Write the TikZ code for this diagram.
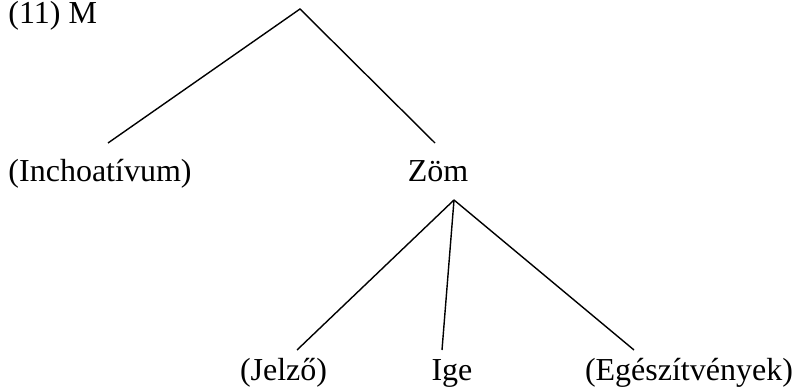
\documentclass[tikz,border=0pt]{standalone}
\usepackage{fontspec}
\setmainfont{Liberation Serif}
\begin{document}
\begin{tikzpicture}[x=1pt,y=-1pt,
  lbl/.style={inner sep=0pt,outer sep=0pt,font=\fontsize{32}{38}\selectfont},
  branch/.style={line width=1.4pt}]
\useasboundingbox (0,0) rectangle (794,387);
\node[lbl,anchor=base west] (title) at (8.5,24) {(11) M};
\node[lbl,anchor=base west] (inch) at (8.5,182) {(Inchoatívum)};
\node[lbl,anchor=base] (zom) at (438,182) {Zöm};
\node[lbl,anchor=base west] (jelzo) at (240,380) {(Jelző)};
\node[lbl,anchor=base] (ige) at (452,380) {Ige};
\node[lbl,anchor=base west] (egesz) at (585,380) {(Egészítvények)};
\coordinate (m) at (300,9);
\coordinate (inchTop) at (108,143);
\coordinate (zomTop) at (435,143);
\coordinate (zomBot) at (454,200);
\coordinate (jelzoTop) at (297,350);
\coordinate (igeTop) at (442,350);
\coordinate (egeszTop) at (634,350);
\draw[branch] (inchTop) -- (m) -- (zomTop);
\draw[branch] (zomBot) -- (jelzoTop);
\draw[branch] (zomBot) -- (igeTop);
\draw[branch] (zomBot) -- (egeszTop);
\end{tikzpicture}
\end{document}
